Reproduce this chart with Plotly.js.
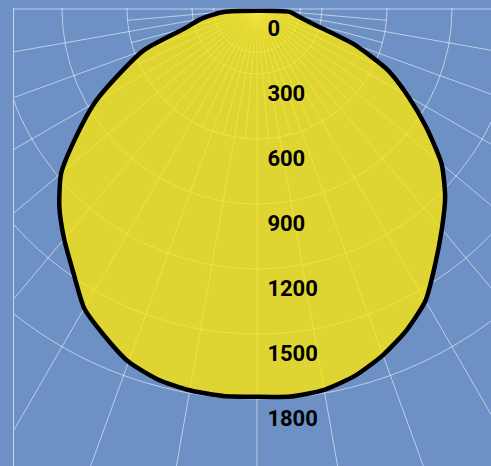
<!DOCTYPE html>
<html>
<head>
<meta charset="utf-8">
<script src="https://cdn.plot.ly/plotly-3.0.1.min.js"></script>
<style>
  html, body { margin: 0; padding: 0; width: 491px; height: 466px; overflow: hidden; background: #6d91c5; }
  #wrap { position: absolute; left: 13px; top: 8px; width: 478px; height: 458px; overflow: hidden;
          border-left: 1px solid rgba(255,255,255,0.6); }
  #chart { position: absolute; left: -407px; top: -649px; width: 1300px; height: 1300px; }
</style>
</head>
<body>
<div id="wrap"><div id="chart"></div></div>
<script>
// Gamma angles (degrees from nadir) and luminous intensity (cd)
const gammaDeg      = [0, 5, 10, 15, 20, 25, 30, 35, 40, 45, 50, 55, 60, 65, 70, 75, 80, 85];
const intensityRight = [1790, 1795, 1785, 1752, 1700, 1635, 1555, 1435, 1327, 1228, 1112, 955, 805, 665, 475, 270, 192, 150];
const intensityLeft  = [1790, 1793, 1787, 1770, 1733, 1665, 1595, 1480, 1385, 1290, 1180, 1015, 865, 695, 555, 345, 262, 155];
const radialTicks = [0, 300, 600, 900, 1200, 1500, 1800];
const tickLabels  = ['0', '300', '600', '900', '1200', '1500', '1800'];
const minorAngles = [5, 15, 25, 35, 45, 55, 65, 75, 85, 95, 105, 115, 125, 135, 145, 155, 165, 175,
                     185, 195, 205, 215, 225, 235, 245, 255, 265, 275, 285, 295, 305, 315, 325, 335, 345, 355];
const minorCircles = [200];

const theta = [], r = [];
for (let i = gammaDeg.length - 1; i >= 0; i--) { theta.push(-gammaDeg[i]); r.push(intensityLeft[i]); }
for (let i = 1; i < gammaDeg.length; i++) { theta.push(gammaDeg[i]); r.push(intensityRight[i]); }
theta.push(theta[0]); r.push(r[0]);

// invisible anchors so that the grid-only subplots are drawn
const anchor = (sp) => ({
  type: 'scatterpolar', subplot: sp, mode: 'markers', r: [0], theta: [0],
  marker: { size: 1, opacity: 0 }, hoverinfo: 'skip', showlegend: false
});

const curve = {
  type: 'scatterpolar', subplot: 'polar3', mode: 'lines', theta: theta, r: r,
  fill: 'toself', fillcolor: 'rgba(255,232,9,0.78)',
  line: { color: '#000000', width: 4.5, shape: 'spline', smoothing: 0.6 },
  hoverinfo: 'skip', showlegend: false
};

const labels = {
  type: 'scatterpolar', subplot: 'polar3', mode: 'markers+text',
  r: radialTicks, theta: radialTicks.map(() => 0),
  text: tickLabels, textposition: 'bottom right',
  marker: { size: 15, color: 'rgba(0,0,0,0)' },
  textfont: { family: 'Roboto, sans-serif', size: 22, color: '#000000', weight: 'bold' },
  cliponaxis: false, hoverinfo: 'skip', showlegend: false
};

const grid = 'rgba(255,255,255,0.55)';
const noLabels = { showticklabels: false, ticks: '', showline: false };
const angBase = Object.assign({ rotation: -90, direction: 'counterclockwise' }, noLabels);
const minorR = 600 / 3000 / 2;   // small subplot radius share (600 cd of 3000 cd)

const layout = {
  width: 1300, height: 1300,
  margin: { l: 0, r: 0, t: 0, b: 0, pad: 0 },
  paper_bgcolor: '#6d91c5',
  showlegend: false,
  polar: {
    domain: { x: [0, 1], y: [0, 1] },
    bgcolor: 'rgba(0,0,0,0)',
    radialaxis: Object.assign({ range: [0, 3000], tickmode: 'array', tickvals: radialTicks.slice(1),
                                gridcolor: grid, gridwidth: 1 }, noLabels),
    angularaxis: Object.assign({ tickmode: 'linear', tick0: 0, dtick: 10, gridcolor: grid, gridwidth: 1 }, angBase)
  },
  polar2: {
    domain: { x: [0.5 - minorR, 0.5 + minorR], y: [0.5 - minorR, 0.5 + minorR] },
    bgcolor: 'rgba(0,0,0,0)',
    radialaxis: Object.assign({ range: [0, 600], tickmode: 'array', tickvals: minorCircles,
                                gridcolor: grid, gridwidth: 1 }, noLabels),
    angularaxis: Object.assign({ tickmode: 'array', tickvals: minorAngles, gridcolor: grid, gridwidth: 1 }, angBase)
  },
  polar3: {
    domain: { x: [0, 1], y: [0, 1] },
    bgcolor: 'rgba(0,0,0,0)',
    radialaxis: Object.assign({ range: [0, 3000], showgrid: false }, noLabels),
    angularaxis: Object.assign({ showgrid: false }, angBase)
  }
};

Plotly.newPlot('chart', [anchor('polar'), anchor('polar2'), curve, labels], layout,
               { staticPlot: true, displayModeBar: false });
</script>
</body>
</html>
